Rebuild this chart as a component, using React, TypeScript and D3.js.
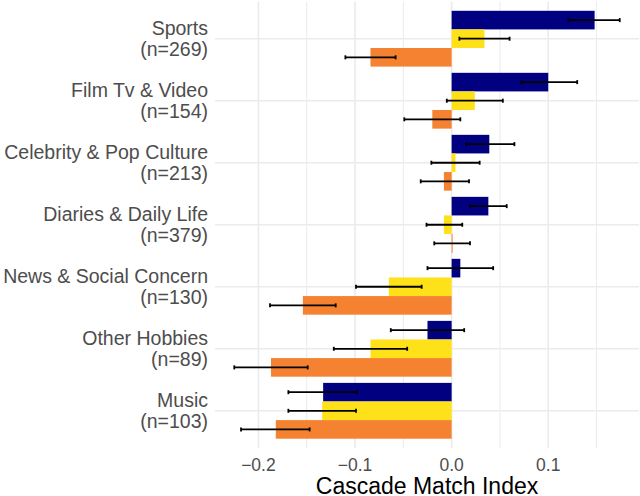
import * as d3 from "d3";

const categories = [
  "Sports",
  "Film Tv & Video",
  "Celebrity & Pop Culture",
  "Diaries & Daily Life",
  "News & Social Concern",
  "Other Hobbies",
  "Music",
];
const counts = [269, 154, 213, 379, 130, 89, 103];

const seriesNames = ["navy", "yellow", "orange"];
const seriesColors = ["#000080", "#FFE119", "#F58231"];

const navyValues = [0.148, 0.1, 0.039, 0.038, 0.009, -0.025, -0.133];
const navyLow = [0.121, 0.072, 0.015, 0.019, -0.025, -0.063, -0.169];
const navyHigh = [0.174, 0.13, 0.065, 0.057, 0.043, 0.013, -0.098];

const yellowValues = [0.034, 0.024, 0.004, -0.008, -0.065, -0.084, -0.134];
const yellowLow = [0.008, -0.005, -0.021, -0.026, -0.099, -0.122, -0.169];
const yellowHigh = [0.06, 0.053, 0.029, 0.011, -0.031, -0.046, -0.099];

const orangeValues = [-0.084, -0.02, -0.008, 0.001, -0.154, -0.187, -0.182];
const orangeLow = [-0.11, -0.049, -0.032, -0.018, -0.188, -0.225, -0.218];
const orangeHigh = [-0.058, 0.009, 0.018, 0.019, -0.12, -0.149, -0.147];

const majorTicks = [-0.2, -0.1, 0, 0.1];
const minorTicks = [-0.15, -0.05, 0.05, 0.15];

const WIDTH = 640;
const HEIGHT = 496;
const PANEL = { left: 215, right: 639, top: 1.5, bottom: 448 };
const FONT = "'Liberation Sans', Arial, Helvetica, sans-serif";

type Row = {
  category: string;
  series: string;
  color: string;
  value: number;
  low: number;
  high: number;
};

const seriesData = [
  [navyValues, navyLow, navyHigh],
  [yellowValues, yellowLow, yellowHigh],
  [orangeValues, orangeLow, orangeHigh],
];

const rows: Row[] = categories.flatMap((c, i) =>
  seriesNames.map((s, j) => ({
    category: c,
    series: s,
    color: seriesColors[j],
    value: seriesData[j][0][i],
    low: seriesData[j][1][i],
    high: seriesData[j][2][i],
  }))
);

const fmt = (v: number) => {
  const s = Math.abs(v).toFixed(1);
  return v < -1e-9 ? "\u2212" + s : s;
};

const App = () => {
  const lo = d3.min(rows, (d) => Math.min(d.low, d.value, 0))!;
  const hi = d3.max(rows, (d) => Math.max(d.high, d.value, 0))!;
  const pad = (hi - lo) * 0.05;

  const x = d3
    .scaleLinear()
    .domain([lo - pad, hi + pad])
    .range([PANEL.left, PANEL.right]);

  const y = d3
    .scaleBand()
    .domain(categories)
    .range([PANEL.top, PANEL.bottom])
    .paddingInner(0)
    .paddingOuter(0.1);

  const groupWidth = y.bandwidth() * 0.9;
  const inner = d3
    .scaleBand()
    .domain(seriesNames)
    .range([-groupWidth / 2, groupWidth / 2]);

  const cy = (c: string) => y(c)! + y.bandwidth() / 2;
  const capH = 4;

  return (
    <svg
      width={WIDTH}
      height={HEIGHT}
      style={{ position: "absolute", left: 0, top: 0, background: "#fff" }}
      fontFamily={FONT}
    >
      {/* minor grid */}
      {minorTicks.map((t) => (
        <line
          key={"mi" + t}
          x1={x(t)}
          x2={x(t)}
          y1={PANEL.top}
          y2={PANEL.bottom}
          stroke="#EBEBEB"
          strokeWidth={1}
        />
      ))}
      {/* major grid */}
      {majorTicks.map((t) => (
        <line
          key={"ma" + t}
          x1={x(t)}
          x2={x(t)}
          y1={PANEL.top}
          y2={PANEL.bottom}
          stroke="#EBEBEB"
          strokeWidth={1.6}
        />
      ))}
      {categories.map((c) => (
        <line
          key={"hg" + c}
          x1={PANEL.left}
          x2={PANEL.right}
          y1={cy(c)}
          y2={cy(c)}
          stroke="#EBEBEB"
          strokeWidth={1.6}
        />
      ))}

      {/* bars */}
      {rows.map((d) => (
        <rect
          key={"b" + d.category + d.series}
          x={Math.min(x(0), x(d.value))}
          width={Math.abs(x(d.value) - x(0))}
          y={cy(d.category) + inner(d.series)!}
          height={inner.bandwidth()}
          fill={d.color}
        />
      ))}

      {/* error bars */}
      {rows.map((d) => {
        const ym = cy(d.category) + inner(d.series)! + inner.bandwidth() / 2;
        return (
          <g key={"e" + d.category + d.series} stroke="#000" strokeWidth={1.8}>
            <line x1={x(d.low)} x2={x(d.high)} y1={ym} y2={ym} />
            <line x1={x(d.low)} x2={x(d.low)} y1={ym - capH / 2} y2={ym + capH / 2} />
            <line x1={x(d.high)} x2={x(d.high)} y1={ym - capH / 2} y2={ym + capH / 2} />
          </g>
        );
      })}

      {/* category labels */}
      {categories.map((c, i) => (
        <text
          key={"l" + c}
          x={208}
          textAnchor="end"
          fill="#4D4D4D"
          fontSize={19.5}
        >
          <tspan x={208} y={cy(c) - 4}>
            {c}
          </tspan>
          <tspan x={208} y={cy(c) + 17.5}>
            {`(n=${counts[i]})`}
          </tspan>
        </text>
      ))}

      {/* x tick labels */}
      {majorTicks.map((t) => (
        <text
          key={"t" + t}
          x={x(t)}
          y={471}
          textAnchor="middle"
          fill="#4D4D4D"
          fontSize={17.5}
        >
          {fmt(t)}
        </text>
      ))}

      <text
        x={(PANEL.left + PANEL.right) / 2}
        y={493.5}
        textAnchor="middle"
        fill="#000"
        fontSize={23}
      >
        Cascade Match Index
      </text>
    </svg>
  );
};

export default App;
